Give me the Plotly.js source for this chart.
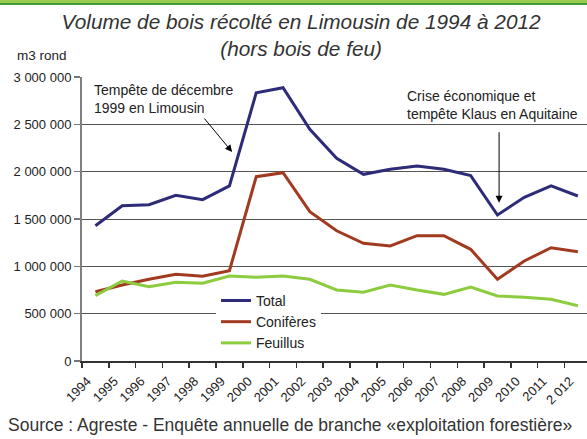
<!DOCTYPE html>
<html>
<head>
<meta charset="utf-8">
<script src="https://cdn.plot.ly/plotly-3.0.1.min.js"></script>
<style>
  html, body { margin: 0; padding: 0; background: #fff; }
  #wrap { position: relative; width: 587px; height: 439px; }
  #chart { position: absolute; left: 0; top: 0; width: 587px; height: 439px; }
  #band { position: absolute; left: 0; top: 0; width: 587px; height: 3px; background: #9ccb4f; border-bottom: 2px solid #3d9b35; z-index: 5; }
</style>
</head>
<body>
<div id="wrap">
  <div id="chart"></div>
  <div id="band"></div>
</div>
<script>
// ---- Data (m3 rond) ----
const years = [1994, 1995, 1996, 1997, 1998, 1999, 2000, 2001, 2002, 2003, 2004, 2005, 2006, 2007, 2008, 2009, 2010, 2011, 2012];
const yearLabels = ["1994", "1995", "1996", "1997", "1998", "1999", "2000", "2001", "2002", "2003", "2004", "2005", "2006", "2007", "2008", "2009", "2010", "2011", "2 012"];
const total     = [1429000, 1640000, 1651000, 1750000, 1704000, 1849000, 2834000, 2887000, 2447000, 2141000, 1972000, 2025000, 2060000, 2025000, 1958000, 1542000, 1729000, 1849000, 1743000];
const coniferes = [732000, 803000, 863000, 916000, 895000, 954000, 1947000, 1989000, 1577000, 1376000, 1243000, 1215000, 1324000, 1324000, 1180000, 863000, 1056000, 1197000, 1155000];
const feuillus  = [690000, 845000, 785000, 831000, 821000, 898000, 884000, 898000, 863000, 750000, 726000, 803000, 750000, 704000, 782000, 687000, 673000, 652000, 584000];
const seriesNames = ["Total", "Conifères", "Feuillus"];
const seriesColors = ["#2e2b78", "#a23a20", "#8dcb3f"];

const FONT = "Liberation Sans, Arial, sans-serif";

const traces = [total, coniferes, feuillus].map((vals, i) => ({
  type: "scatter",
  mode: "lines",
  x: years,
  y: vals,
  name: seriesNames[i],
  legendgroup: "g" + i,
  line: { color: seriesColors[i], width: 3 },
  hoverinfo: "skip"
}));

const layout = {
  width: 587,
  height: 439,
  margin: { l: 82, r: 0, t: 77, b: 78 },
  paper_bgcolor: "#ffffff",
  plot_bgcolor: "#ffffff",
  separators: ", ",
  font: { family: FONT, color: "#222" },
  showlegend: true,
  title: {
    text: "<i>Volume de bois récolté en Limousin de 1994 à 2012<br>(hors bois de feu)</i>",
    font: { family: FONT, size: 20.8, color: "#333" },
    x: 0.513, xref: "container", xanchor: "center",
    y: 0.934, yref: "container", yanchor: "top"
  },
  xaxis: {
    type: "linear",
    range: [1993.5, 2012.34],
    tickmode: "array",
    tickvals: years.map(y => y - 0.3),
    ticktext: yearLabels,
    tickangle: -45,
    ticks: "",
    ticklabelstandoff: 6,
    tickfont: { family: FONT, size: 13, color: "#222" },
    showline: true, linecolor: "#333", linewidth: 1.5,
    showgrid: false, zeroline: false,
    minor: { tick0: 1993.5, dtick: 1, ticks: "outside", ticklen: 5, tickwidth: 1.5, tickcolor: "#333", showgrid: false }
  },
  yaxis: {
    range: [0, 3000000],
    tickmode: "linear", tick0: 0, dtick: 500000,
    tickformat: ",d",
    ticks: "outside", ticklen: 6, tickcolor: "#777", tickwidth: 1.5,
    tickfont: { family: FONT, size: 13, color: "#222" },
    showline: true, linecolor: "#808080", linewidth: 2,
    showgrid: true, gridcolor: "#555", gridwidth: 1,
    zeroline: false
  },
  legend: {
    x: 0.2653, xanchor: "left",
    y: 0.268, yanchor: "top",
    bgcolor: "#ffffff", borderwidth: 0,
    font: { family: FONT, size: 14, color: "#222" },
    tracegroupgap: 0,
    itemclick: false, itemdoubleclick: false
  },
  annotations: [
    { text: "m3 rond", xref: "paper", yref: "paper", x: -0.1327, y: 1.0757, xanchor: "left", yanchor: "middle", showarrow: false, font: { family: FONT, size: 13.5, color: "#222" } },
    { text: "Tempête de décembre<br>1999 en Limousin", xref: "paper", yref: "paper", x: 0.0198, y: 0.989, xanchor: "left", yanchor: "top", align: "left", showarrow: false, font: { family: FONT, size: 14, color: "#222" } },
    { text: "", xref: "x", yref: "y", x: 1999.1, y: 2208000, ax: -29, ay: -35, showarrow: true, arrowhead: 2, arrowsize: 1.4, arrowwidth: 1, arrowcolor: "#000" },
    { text: "Crise économique et<br>tempête Klaus en Aquitaine", xref: "paper", yref: "paper", x: 0.6396, y: 0.968, xanchor: "left", yanchor: "top", align: "left", showarrow: false, font: { family: FONT, size: 14, color: "#222" } },
    { text: "", xref: "x", yref: "y", x: 2009.06, y: 1672000, ax: 0, ay: -72, showarrow: true, arrowhead: 2, arrowsize: 1.4, arrowwidth: 1, arrowcolor: "#000" },
    { text: "Source : Agreste - Enquête annuelle de branche «exploitation forestière»", xref: "paper", yref: "paper", x: 0.4119, y: -0.2254, xanchor: "center", yanchor: "middle", showarrow: false, font: { family: FONT, size: 17.5, color: "#333" } }
  ]
};

Plotly.newPlot("chart", traces, layout, { displayModeBar: false, staticPlot: true });
</script>
</body>
</html>
